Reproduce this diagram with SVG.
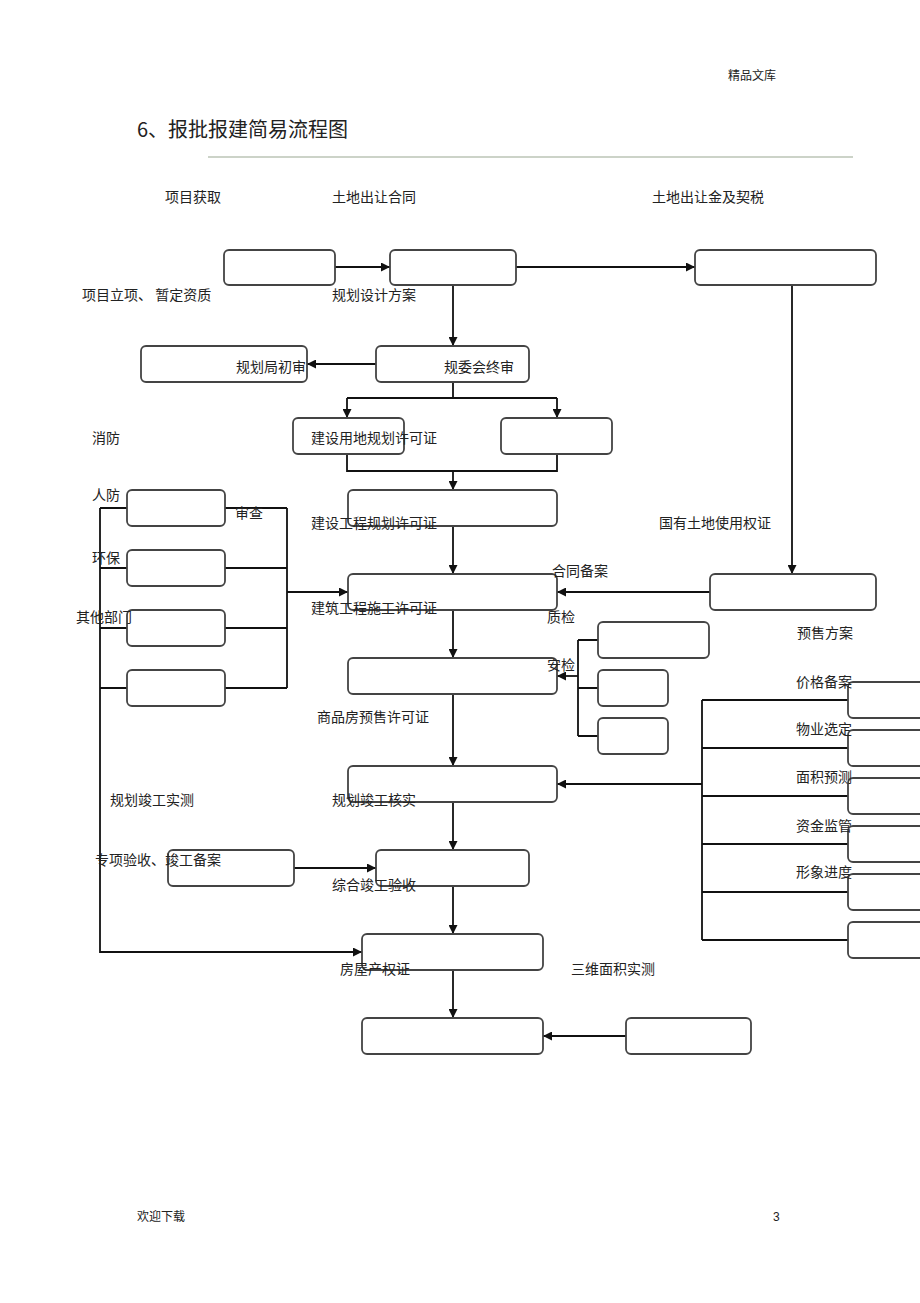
<svg xmlns="http://www.w3.org/2000/svg" width="920" height="1303" viewBox="0 0 920 1303">
<style>
text{font-family:"Noto Sans CJK SC","Liberation Sans",sans-serif;font-size:14px;fill:#222}
.n{fill:#fff;stroke:#444;stroke-width:1.8}
.c{fill:none;stroke:#111;stroke-width:1.8}
.a{marker-end:url(#ah)}
</style>
<defs>
<marker id="ah" viewBox="0 0 10 10" refX="10" refY="5" markerWidth="5" markerHeight="5" orient="auto" markerUnits="strokeWidth">
<path d="M0,0 L10,5 L0,10 z" fill="#111"/>
</marker>
</defs>
<rect width="920" height="1303" fill="#fff"/>
<text x="728" y="80" style="font-size:12px">精品文库</text>
<text x="137" y="137" style="font-size:20px">6、报批报建简易流程图</text>
<line x1="208" y1="157" x2="853" y2="157" stroke="#9aa892" stroke-width="1.2"/>

<g id="connectors">
<path class="c a" d="M335,267 H390"/>
<path class="c a" d="M516,267 H695"/>
<path class="c a" d="M453,285 V346"/>
<path class="c a" d="M376,364 H307"/>
<path class="c" d="M453,382 V398 M347,398 H557"/>
<path class="c a" d="M347,398 V418"/>
<path class="c a" d="M557,398 V418"/>
<path class="c" d="M347,454 V471 H557 V454"/>
<path class="c a" d="M453,471 V490"/>
<path class="c a" d="M453,526 V574"/>
<path class="c a" d="M453,610 V658"/>
<path class="c a" d="M453,694 V766"/>
<path class="c a" d="M453,802 V850"/>
<path class="c a" d="M453,886 V934"/>
<path class="c a" d="M453,970 V1018"/>
<path class="c a" d="M626,1036 H543"/>
<path class="c a" d="M792,285 V574"/>
<path class="c a" d="M710,592 H557"/>
<path class="c" d="M100,508 H127 M100,568 H127 M100,628 H127 M100,688 H127"/>
<path class="c" d="M225,508 H287 M225,568 H287 M225,628 H287 M225,688 H287 M287,508 V688"/>
<path class="c a" d="M287,592 H348"/>
<path class="c a" d="M100,508 V952 H362"/>
<path class="c a" d="M294,868 H376"/>
<path class="c" d="M578,640 V736 M578,640 H598 M578,688 H598 M578,736 H598"/>
<path class="c a" d="M578,676 H557"/>
<path class="c" d="M702,700 V940 M702,700 H848 M702,748 H848 M702,796 H848 M702,844 H848 M702,892 H848 M702,940 H848"/>
<path class="c a" d="M702,784 H557"/>
</g>

<g id="n-xmhq"><rect class="n" x="224" y="250" width="111" height="35" rx="5"/></g>
<g id="n-tdcrht"><rect class="n" x="390" y="250" width="126" height="35" rx="5"/></g>
<g id="n-crjqs"><rect class="n" x="695" y="250" width="181" height="35" rx="5"/></g>
<g id="n-ghjcs"><rect class="n" x="141" y="346" width="166" height="36" rx="5"/></g>
<g id="n-ghhzs"><rect class="n" x="376" y="346" width="153" height="36" rx="5"/></g>
<g id="n-jsydgh"><rect class="n" x="293" y="418" width="111" height="36" rx="5"/></g>
<g id="n-right1"><rect class="n" x="501" y="418" width="111" height="36" rx="5"/></g>
<g id="n-jsgcgh"><rect class="n" x="348" y="490" width="209" height="36" rx="5"/></g>
<g id="n-jzgcsg"><rect class="n" x="348" y="574" width="209" height="36" rx="5"/></g>
<g id="n-spfys"><rect class="n" x="348" y="658" width="209" height="36" rx="5"/></g>
<g id="n-ghjghs"><rect class="n" x="348" y="766" width="209" height="36" rx="5"/></g>
<g id="n-zhjgys"><rect class="n" x="376" y="850" width="153" height="36" rx="5"/></g>
<g id="n-fwcqz"><rect class="n" x="362" y="934" width="181" height="36" rx="5"/></g>
<g id="n-final"><rect class="n" x="362" y="1018" width="181" height="36" rx="5"/></g>
<g id="n-swmj"><rect class="n" x="626" y="1018" width="125" height="36" rx="5"/></g>
<g id="n-rf"><rect class="n" x="127" y="490" width="98" height="36" rx="5"/></g>
<g id="n-hb"><rect class="n" x="127" y="550" width="98" height="36" rx="5"/></g>
<g id="n-qt"><rect class="n" x="127" y="610" width="98" height="36" rx="5"/></g>
<g id="n-l4"><rect class="n" x="127" y="670" width="98" height="36" rx="5"/></g>
<g id="n-zxys"><rect class="n" x="168" y="850" width="126" height="36" rx="5"/></g>
<g id="n-htba"><rect class="n" x="710" y="574" width="166" height="36" rx="5"/></g>
<g id="n-zj"><rect class="n" x="598" y="622" width="111" height="36" rx="5"/></g>
<g id="n-aj"><rect class="n" x="598" y="670" width="70" height="36" rx="5"/></g>
<g id="n-q3"><rect class="n" x="598" y="718" width="70" height="36" rx="5"/></g>
<g id="n-jgba"><rect class="n" x="848" y="682" width="90" height="36" rx="5"/></g>
<g id="n-wyxd"><rect class="n" x="848" y="730" width="90" height="36" rx="5"/></g>
<g id="n-mjyc"><rect class="n" x="848" y="778" width="90" height="36" rx="5"/></g>
<g id="n-zjjg"><rect class="n" x="848" y="826" width="90" height="36" rx="5"/></g>
<g id="n-xxjd"><rect class="n" x="848" y="874" width="90" height="36" rx="5"/></g>
<g id="n-r6"><rect class="n" x="848" y="922" width="90" height="36" rx="5"/></g>

<g id="labels">
<text x="165" y="202">项目获取</text>
<text x="332" y="202">土地出让合同</text>
<text x="652" y="202">土地出让金及契税</text>
<text x="82" y="300">项目立项、 暂定资质</text>
<text x="332" y="300">规划设计方案</text>
<text x="236" y="372">规划局初审</text>
<text x="444" y="372">规委会终审</text>
<text x="92" y="443">消防</text>
<text x="311" y="443">建设用地规划许可证</text>
<text x="92" y="500">人防</text>
<text x="235" y="518">审查</text>
<text x="311" y="528">建设工程规划许可证</text>
<text x="659" y="528">国有土地使用权证</text>
<text x="92" y="563">环保</text>
<text x="552" y="576">合同备案</text>
<text x="76" y="622">其他部门</text>
<text x="311" y="613">建筑工程施工许可证</text>
<text x="547" y="622">质检</text>
<text x="797" y="638">预售方案</text>
<text x="547" y="670">安检</text>
<text x="796" y="687">价格备案</text>
<text x="317" y="722">商品房预售许可证</text>
<text x="796" y="734">物业选定</text>
<text x="796" y="782">面积预测</text>
<text x="110" y="805">规划竣工实测</text>
<text x="332" y="805">规划竣工核实</text>
<text x="796" y="831">资金监管</text>
<text x="95" y="865">专项验收、竣工备案</text>
<text x="796" y="877">形象进度</text>
<text x="332" y="890">综合竣工验收</text>
<text x="340" y="974">房屋产权证</text>
<text x="571" y="974">三维面积实测</text>
</g>
<text x="137" y="1221" style="font-size:12px">欢迎下载</text>
<text x="773" y="1221" style="font-size:12px;font-family:'Liberation Sans',sans-serif">3</text>
</svg>
